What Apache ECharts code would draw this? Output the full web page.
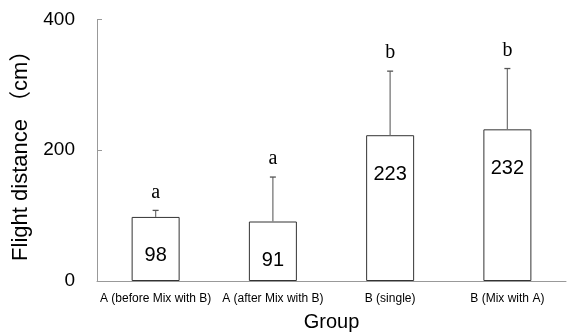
<!DOCTYPE html>
<html><head><meta charset="utf-8">
<script src="https://cdn.jsdelivr.net/npm/echarts@6/dist/echarts.min.js"></script>
<style>html,body{margin:0;padding:0;background:#fff}#c{width:569px;height:332px}</style>
</head><body><div id="c"></div>
<script>
const categories = ['A (before Mix with B)', 'A (after Mix with B)', 'B (single)', 'B (Mix with A)'];
const means = [98, 91, 223, 232];
const sds = [10, 68, 98, 93];
const letters = ['a', 'a', 'b', 'b'];
const yTicks = [0, 200, 400];

const chart = echarts.init(document.getElementById('c'), null, {renderer: 'canvas'});
const errData = means.map((m, i) => [i, m, m + sds[i], letters[i]]);
chart.setOption({
  animation: false,
  grid: {left: 97, right: 3, top: 19.5, bottom: 51, containLabel: false, outerBoundsMode: 'none'},
  xAxis: {
    type: 'category', data: categories,
    name: 'Group', nameLocation: 'middle', nameGap: 31,
    nameTextStyle: {fontSize: 20, color: '#000', fontFamily: 'Liberation Sans, Arial, sans-serif'},
    axisLine: {lineStyle: {color: '#999', width: 1}},
    axisTick: {inside: true, length: 3, lineStyle: {color: '#999'}},
    axisLabel: {fontSize: 12, color: '#000', margin: 12, interval: 0, fontFamily: 'Liberation Sans, Arial, sans-serif'}
  },
  yAxis: {
    type: 'value', min: 0, max: 400, interval: 200,
    name: 'Flight distance （cm）', nameLocation: 'middle', nameGap: 63, nameRotate: 90,
    nameTextStyle: {fontSize: 22, color: '#000', fontFamily: 'Liberation Sans, Arial, Noto Sans CJK JP, sans-serif'},
    axisLine: {show: true, lineStyle: {color: '#999', width: 1}},
    axisTick: {show: true, inside: true, length: 5, lineStyle: {color: '#999'}},
    splitLine: {show: false},
    axisLabel: {fontSize: 19, color: '#000', margin: 22, fontFamily: 'Liberation Sans, Arial, sans-serif',
      formatter: v => yTicks.includes(v) ? String(v) : ''}
  },
  series: [
    {
      type: 'bar', data: means, barWidth: 48,
      itemStyle: {color: '#fff', borderColor: '#333', borderWidth: 1},
      label: {show: true, position: 'insideTop', distance: 29, fontSize: 20, color: '#000',
        fontFamily: 'Liberation Sans Narrow, Liberation Sans, Arial, sans-serif'},
      z: 2
    },
    {
      type: 'custom', data: errData, z: 3,
      renderItem: function (params, api) {
        const x = api.value(0);
        const base = api.coord([x, api.value(1)]);
        const top = api.coord([x, api.value(2)]);
        const cap = 3;
        return {
          type: 'group',
          children: [
            {type: 'line', shape: {x1: base[0], y1: base[1], x2: top[0], y2: top[1]}, style: {stroke: '#777', lineWidth: 1.3}},
            {type: 'line', shape: {x1: top[0] - cap, y1: top[1], x2: top[0] + cap, y2: top[1]}, style: {stroke: '#555', lineWidth: 1.3}},
            {type: 'text', x: top[0], y: top[1] - 8, style: {text: api.value(3), fill: '#000', font: '20px "Liberation Serif", "Times New Roman", serif', align: 'center', verticalAlign: 'bottom'}}
          ]
        };
      }
    }
  ]
});
</script>
</body></html>
